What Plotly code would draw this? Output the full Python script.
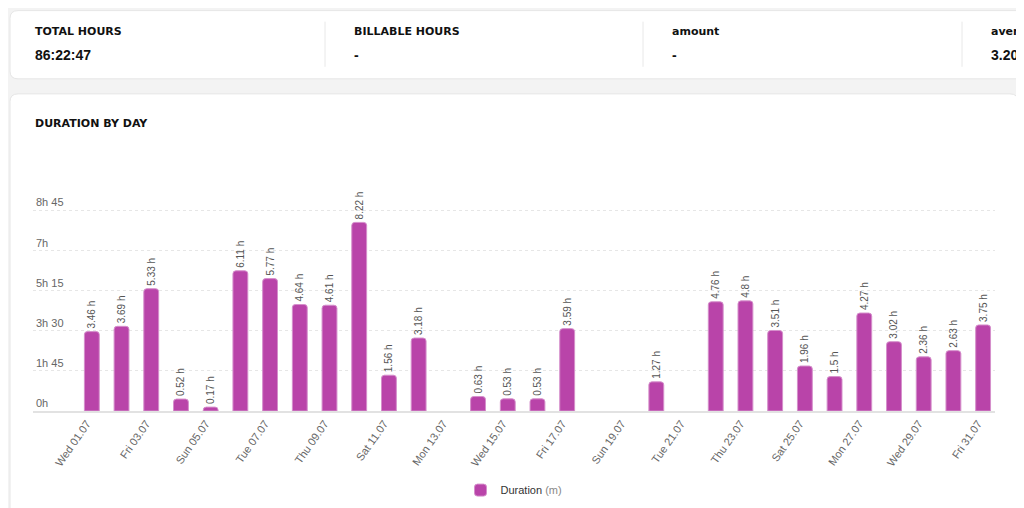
import plotly.graph_objects as go

# data: July, hours per day (None = no entry)
days = ["Wed 01.07", "Thu 02.07", "Fri 03.07", "Sat 04.07", "Sun 05.07", "Mon 06.07",
        "Tue 07.07", "Wed 08.07", "Thu 09.07", "Fri 10.07", "Sat 11.07", "Sun 12.07",
        "Mon 13.07", "Tue 14.07", "Wed 15.07", "Thu 16.07", "Fri 17.07", "Sat 18.07",
        "Sun 19.07", "Mon 20.07", "Tue 21.07", "Wed 22.07", "Thu 23.07", "Fri 24.07",
        "Sat 25.07", "Sun 26.07", "Mon 27.07", "Tue 28.07", "Wed 29.07", "Thu 30.07",
        "Fri 31.07"]
hours = [3.46, 3.69, 5.33, 0.52, 0.17, 6.11, 5.77, 4.64, 4.61, 8.22, 1.56, 3.18,
         None, 0.63, 0.53, 0.53, 3.59, None, None, 1.27, None, 4.76, 4.8, 3.51,
         1.96, 1.5, 4.27, 3.02, 2.36, 2.63, 3.75]
bar_labels = ["" if h is None else f"{h:g} h" for h in hours]

ytick_vals = [0, 1.75, 3.5, 5.25, 7, 8.75]
ytick_text = ["0h", "1h 45", "3h 30", "5h 15", "7h", "8h 45"]

stat_titles = ["TOTAL HOURS", "BILLABLE HOURS", "amount", "average"]
stat_values = ["86:22:47", "-", "-", "3.20 h"]

BAR_COLOR = "#b944a9"
W, H = 1024, 508

# page offset/scale seen in the screenshot (body margin etc)
OX, OY, SY = 8, 14, 0.971


def sx(x):
    return x - OX


def sy(y):
    return (y - OY) / SY


# plot area (figure px)
ml = round(sx(33))
mr = W - round(sx(995))
B = round(sy(411))
pxh = (B - sy(211)) / 8.75      # px per hour
T = round(B - 9.8 * pxh)
ymax = (B - T) / pxh


def px(x):
    return (sx(x) - ml) / (W - ml - mr)


def py(y):
    return (B - sy(y)) / (B - T)


def card(x0, y0, x1, y1, r=8):
    rx = r / (W - ml - mr)
    ry = r / (B - T)
    a, b, c, d = px(x0), py(y0), px(x1), py(y1)
    path = (f"M {a+rx},{b} L {c-rx},{b} Q {c},{b} {c},{b-ry} "
            f"L {c},{d+ry} Q {c},{d} {c-rx},{d} L {a+rx},{d} "
            f"Q {a},{d} {a},{d+ry} L {a},{b-ry} Q {a},{b} {a+rx},{b} Z")
    return dict(type="path", path=path, xref="paper", yref="paper",
                fillcolor="white", line=dict(color="#e6e6e6", width=1), layer="below")


fig = go.Figure()
fig.add_trace(go.Bar(
    x=days, y=hours,
    name="Duration <span style='color:#888'>(m)</span>",
    marker=dict(color=BAR_COLOR, line=dict(color="#d58fcb", width=1), cornerradius=3),
    text=bar_labels, textposition="outside", textangle=-90,
    textfont=dict(size=10, color="#555", family="Liberation Sans"),
    constraintext="none", cliponaxis=False,
))

shapes = [card(10, 12, 1060, 80), card(10, 95, 1018, 560)]
for xd in [325, 643, 962]:
    shapes.append(dict(type="line", xref="paper", yref="paper",
                       x0=px(xd), x1=px(xd), y0=py(23), y1=py(68),
                       line=dict(color="#e8e8e8", width=1)))

annotations = []
for i, (t, v) in enumerate(zip(stat_titles, stat_values)):
    x0 = 33 + i * 318.5
    annotations.append(dict(text=f"<b>{t}</b>", x=px(x0), y=py(33), xref="paper", yref="paper",
                            xanchor="left", yanchor="middle", showarrow=False,
                            font=dict(family="DejaVu Sans", size=11, color="#111")))
    annotations.append(dict(text=f"<b>{v}</b>", x=px(x0), y=py(56), xref="paper", yref="paper",
                            xanchor="left", yanchor="middle", showarrow=False,
                            font=dict(family="Liberation Sans", size=14, color="#111")))
annotations.append(dict(text="<b>DURATION BY DAY</b>", x=px(33), y=py(125), xref="paper", yref="paper",
                        xanchor="left", yanchor="middle", showarrow=False,
                        font=dict(family="DejaVu Sans", size=11, color="#111")))

fig.update_layout(
    width=W, height=H,
    margin=dict(l=ml, r=mr, t=T, b=H - B),
    paper_bgcolor="#f3f3f3", plot_bgcolor="white",
    bargap=0.5,
    shapes=shapes, annotations=annotations,
    showlegend=True,
    legend=dict(orientation="h", x=px(514), xanchor="center", y=py(490), yanchor="middle",
                font=dict(family="Liberation Sans", size=11, color="#333"),
                bgcolor="rgba(0,0,0,0)", itemwidth=30),
    font=dict(family="Liberation Sans"),
)
fig.update_xaxes(
    range=[-1.98, 30.4], tickvals=days[::2], tickangle=-55,
    tickfont=dict(size=11, color="#666", family="Liberation Sans"),
    ticklabelshift=-5,
    showline=True, linecolor="#e2e2e2", linewidth=2, showgrid=False, ticks="",
)
fig.update_yaxes(
    range=[0, ymax], tickvals=ytick_vals, ticktext=ytick_text,
    ticklabelposition="inside top",
    tickfont=dict(size=11, color="#666", family="Liberation Sans"),
    showgrid=True, gridcolor="#e6e6e6", griddash="dot", gridwidth=1,
    zeroline=False, showline=False,
)

fig.write_html("out.html")
